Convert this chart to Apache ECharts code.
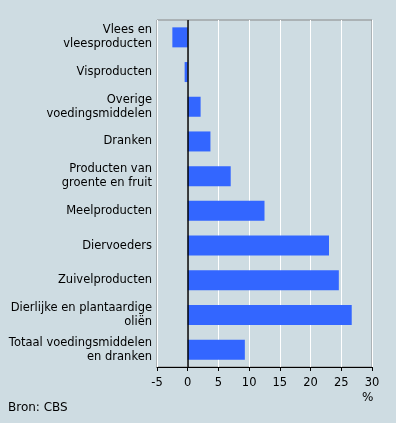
<!DOCTYPE html>
<html><head><meta charset="utf-8">
<script src="https://cdn.jsdelivr.net/npm/echarts@6/dist/echarts.min.js"></script>
<style>html,body{margin:0;padding:0;background:#cedce2;}#c{width:396px;height:423px;}</style>
</head><body><div id="c"></div>
<script>
var categories = ["Vlees en\nvleesproducten","Visproducten","Overige\nvoedingsmiddelen","Dranken","Producten van\ngroente en fruit","Meelproducten","Diervoeders","Zuivelproducten","Dierlijke en plantaardige\noliën","Totaal voedingsmiddelen\nen dranken"];
var values = [-2.5, -0.5, 2.1, 3.7, 7.0, 12.5, 23.0, 24.6, 26.7, 9.3];
var xTicks = {min: -5, max: 30, interval: 5};
var unitLabel = "%";
var sourceLabel = "Bron: CBS";

var font = "DejaVu Sans";
var chart = echarts.init(document.getElementById('c'), null, {renderer:'canvas'});
chart.setOption({
  backgroundColor: '#cedce2',
  animation: false,
  grid: {left: 157, right: 24, top: 20, bottom: 56, show: true, borderColor: '#888888', borderWidth: 1, backgroundColor: 'transparent'},
  xAxis: {
    type: 'value', min: xTicks.min, max: xTicks.max, interval: xTicks.interval,
    axisLine: {show: true, onZero: false, lineStyle: {color: '#000', width: 1}},
    axisTick: {show: true, length: 4, lineStyle: {color: '#000'}},
    axisLabel: {color: '#000', fontFamily: font, fontSize: 11.5, margin: 10},
    splitLine: {show: true, lineStyle: {color: '#ffffff', width: 1}}
  },
  yAxis: {
    type: 'category', data: categories, inverse: true,
    axisLine: {show: false}, axisTick: {show: false},
    axisLabel: {color: '#000', fontFamily: font, fontSize: 11.5, margin: 5, lineHeight: 14, align: 'right'},
    splitLine: {show: false}
  },
  series: [{
    type: 'bar', data: values, barWidth: 20,
    itemStyle: {color: '#3366ff'},
    markLine: {silent: true, symbol: 'none', label: {show: false},
      lineStyle: {color: '#000', width: 1.5, type: 'solid'},
      data: [{xAxis: 0}]}
  }],
  graphic: [
    {type: 'text', left: 362, top: 392, style: {text: unitLabel, fill: '#000', font: '12px "DejaVu Sans"'}},
    {type: 'text', left: 8, top: 402, style: {text: sourceLabel, fill: '#000', font: '12px "DejaVu Sans"'}}
  ]
});
</script></body></html>
